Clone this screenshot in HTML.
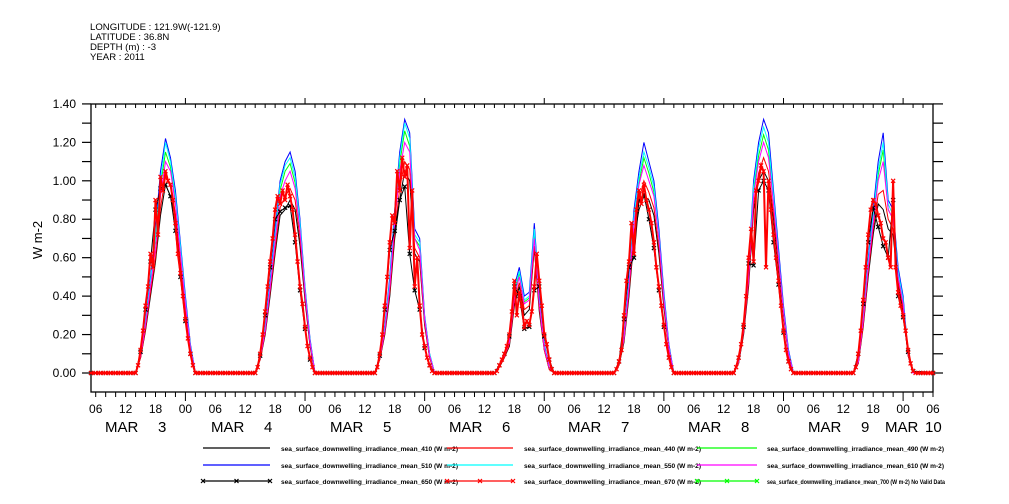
<!DOCTYPE html>
<html><head><meta charset="utf-8"><style>
html,body{margin:0;padding:0;background:#fff;}
svg{display:block;font-family:"Liberation Sans",sans-serif;}
</style></head><body>
<svg id="chart" width="1009" height="504" viewBox="0 0 1009 504" xmlns="http://www.w3.org/2000/svg">
<g font-size="9.6" fill="#000">
<text x="90" y="30">LONGITUDE : 121.9W(-121.9)</text>
<text x="90" y="40">LATITUDE : 36.8N</text>
<text x="90" y="50">DEPTH (m) : -3</text>
<text x="90" y="60">YEAR : 2011</text>
</g>
<text transform="translate(42,240) rotate(-90)" text-anchor="middle" font-size="13">W m-2</text>
<g id="axes"></g>
<g id="series"></g>
<g id="legend"></g>
</svg>
<script>
const halfHours = [14,14.5,15,15.5,16,16.5,17,17.5,18,18.5,19,19.5,20,20.5,21,21.5,22,22.5,23,23.5,24,24.5,25,25.5,26,26.5];
const hours = [14,15,16,17,18,19,20,21,22,23,24,25,26];
const dayLabels = ["MAR 3","MAR 4","MAR 5","MAR 6","MAR 7","MAR 8","MAR 9","MAR 10"];
const yTicks = [0,0.2,0.4,0.6,0.8,1.0,1.2,1.4];
const yTickLabels = ["0.00","0.20","0.40","0.60","0.80","1.00","1.20","1.40"];
const hourTickLabels = ["00","06","12","18"];

const red670 = [
[0,0.04,0.12,0.22,0.35,0.45,0.62,0.55,0.9,0.72,1.02,0.95,1.05,1.0,0.98,0.9,0.78,0.62,0.52,0.4,0.28,0.18,0.1,0.04,0,0],
[0,0.03,0.1,0.2,0.32,0.45,0.58,0.7,0.85,0.92,0.88,0.95,0.9,0.98,0.92,0.85,0.72,0.58,0.45,0.36,0.24,0.14,0.08,0.03,0,0],
[0,0.03,0.1,0.2,0.35,0.5,0.68,0.82,0.78,1.05,0.95,1.12,1.02,1.08,0.65,0.95,0.45,0.6,0.35,0.2,0.14,0.08,0.04,0.01,0,0],
[0,0.01,0.04,0.07,0.1,0.14,0.2,0.32,0.48,0.3,0.42,0.35,0.24,0.27,0.25,0.32,0.45,0.62,0.48,0.35,0.2,0.15,0.07,0.02,0,0],
[0,0.02,0.06,0.12,0.3,0.48,0.58,0.78,0.62,0.85,0.95,0.88,0.98,0.9,0.85,0.78,0.68,0.55,0.45,0.35,0.25,0.15,0.08,0.03,0,0],
[0,0.03,0.08,0.15,0.25,0.4,0.6,0.75,0.58,0.95,1.0,1.08,1.05,0.55,1.0,0.85,0.72,0.6,0.48,0.35,0.22,0.12,0.06,0.02,0,0],
[0,0.03,0.1,0.22,0.38,0.55,0.72,0.85,0.9,0.88,0.82,0.78,0.7,0.68,0.6,0.55,1.0,0.55,0.42,0.35,0.3,0.22,0.12,0.05,0.01,0]
];
const blue510 = [
[0,0.1,0.28,0.5,0.75,1.05,1.22,1.12,0.95,0.68,0.4,0.15,0],
[0,0.08,0.25,0.48,0.75,1.0,1.1,1.15,1.05,0.8,0.45,0.18,0],
[0,0.08,0.25,0.5,0.85,1.15,1.32,1.25,0.75,0.7,0.3,0.1,0],
[0,0.04,0.1,0.18,0.45,0.55,0.4,0.42,0.78,0.4,0.15,0.03,0],
[0,0.05,0.2,0.5,0.85,1.05,1.2,1.1,1.0,0.75,0.42,0.15,0],
[0,0.06,0.25,0.55,1.0,1.2,1.32,1.25,0.95,0.65,0.35,0.12,0],
[0,0.06,0.3,0.6,0.85,1.1,1.25,0.9,0.85,0.55,0.4,0.1,0]
];
const cyan550 = [
[0,0.1,0.27,0.48,0.72,1.0,1.2,1.1,0.92,0.66,0.38,0.14,0],
[0,0.08,0.24,0.46,0.72,0.98,1.08,1.12,1.02,0.78,0.44,0.17,0],
[0,0.08,0.24,0.48,0.82,1.12,1.3,1.22,0.72,0.68,0.29,0.1,0],
[0,0.04,0.1,0.17,0.43,0.53,0.38,0.4,0.75,0.38,0.14,0.03,0],
[0,0.05,0.19,0.48,0.82,1.02,1.15,1.07,0.97,0.72,0.4,0.14,0],
[0,0.06,0.24,0.53,0.97,1.17,1.28,1.2,0.92,0.62,0.33,0.11,0],
[0,0.06,0.29,0.58,0.82,1.06,1.2,0.88,0.82,0.53,0.38,0.1,0]
];
const magenta610 = [
[0,0.09,0.25,0.45,0.65,0.92,1.1,1.05,0.88,0.62,0.36,0.13,0],
[0,0.08,0.22,0.44,0.68,0.92,1.0,1.05,0.96,0.74,0.42,0.16,0],
[0,0.08,0.22,0.45,0.78,1.05,1.2,1.15,0.7,0.64,0.28,0.09,0],
[0,0.04,0.09,0.16,0.4,0.5,0.36,0.38,0.7,0.36,0.13,0.03,0],
[0,0.05,0.18,0.45,0.78,0.98,1.08,1.0,0.92,0.7,0.38,0.13,0],
[0,0.06,0.22,0.5,0.92,1.1,1.2,1.12,0.88,0.6,0.32,0.1,0],
[0,0.06,0.27,0.55,0.78,1.0,1.1,0.85,0.8,0.5,0.36,0.1,0]
];
const green490 = [
[0,0.1,0.26,0.47,0.7,0.97,1.15,1.07,0.9,0.64,0.37,0.14,0],
[0,0.08,0.23,0.45,0.7,0.95,1.05,1.09,0.99,0.76,0.43,0.17,0],
[0,0.08,0.23,0.47,0.8,1.09,1.26,1.18,0.7,0.66,0.28,0.1,0],
[0,0.04,0.1,0.17,0.42,0.52,0.37,0.39,0.73,0.37,0.14,0.03,0],
[0,0.05,0.18,0.47,0.8,0.99,1.12,1.04,0.94,0.7,0.39,0.14,0],
[0,0.06,0.23,0.51,0.94,1.13,1.24,1.16,0.89,0.6,0.32,0.11,0],
[0,0.06,0.28,0.56,0.8,1.03,1.16,0.85,0.8,0.51,0.37,0.1,0]
];
const red440 = [
[0,0.08,0.23,0.42,0.6,0.86,1.02,0.97,0.83,0.58,0.34,0.12,0],
[0,0.07,0.21,0.42,0.64,0.86,0.92,0.96,0.9,0.7,0.4,0.15,0],
[0,0.07,0.21,0.42,0.73,0.96,1.1,1.06,0.65,0.6,0.26,0.08,0],
[0,0.03,0.08,0.15,0.37,0.47,0.33,0.35,0.66,0.34,0.12,0.02,0],
[0,0.04,0.17,0.42,0.73,0.9,1.0,0.94,0.86,0.65,0.36,0.12,0],
[0,0.05,0.21,0.47,0.88,1.04,1.12,1.05,0.83,0.57,0.31,0.09,0],
[0,0.05,0.25,0.52,0.75,0.93,0.95,0.8,0.75,0.48,0.34,0.09,0]
];
const black410 = [
[0,0.08,0.22,0.4,0.58,0.82,0.98,0.92,0.8,0.56,0.32,0.12,0],
[0,0.07,0.2,0.4,0.62,0.82,0.85,0.9,0.85,0.66,0.38,0.14,0],
[0,0.07,0.2,0.4,0.7,0.9,1.05,1.0,0.62,0.58,0.25,0.08,0],
[0,0.03,0.08,0.14,0.35,0.45,0.3,0.33,0.65,0.32,0.12,0.02,0],
[0,0.04,0.16,0.4,0.7,0.85,0.92,0.9,0.82,0.62,0.34,0.12,0],
[0,0.05,0.2,0.45,0.85,1.0,1.05,1.0,0.8,0.55,0.3,0.09,0],
[0,0.05,0.24,0.5,0.72,0.88,0.85,0.75,0.72,0.46,0.32,0.09,0]
];
const black650 = [
[0,0.11,0.33,0.58,0.85,0.96,0.98,0.92,0.74,0.5,0.27,0.1,0],
[0,0.09,0.3,0.55,0.8,0.84,0.86,0.87,0.68,0.43,0.23,0.07,0],
[0,0.09,0.33,0.64,0.74,0.9,0.97,0.62,0.43,0.33,0.13,0.04,0],
[0,0.04,0.1,0.19,0.45,0.4,0.23,0.24,0.43,0.45,0.19,0.07,0],
[0,0.06,0.28,0.55,0.6,0.9,0.93,0.8,0.65,0.43,0.24,0.08,0],
[0,0.08,0.24,0.57,0.56,0.95,1.0,0.95,0.68,0.46,0.21,0.06,0],
[0,0.1,0.36,0.68,0.86,0.76,0.66,0.6,0.9,0.4,0.29,0.11,0.01]
];

const NS="http://www.w3.org/2000/svg";
const X0=91, X1=933, Y0=104, Y1=392;
const T_MIN=5.06, T_MAX=174;
function xT(t){return 95.7+4.984*(t-6);}
function yV(v){return 373-v*192.2;}
function mk(tag,attrs,parent){const e=document.createElementNS(NS,tag);for(const k in attrs)e.setAttribute(k,attrs[k]);parent.appendChild(e);return e;}

const axes=document.getElementById('axes');
const frame=mk('rect',{x:X0,y:Y0,width:X1-X0,height:Y1-Y0,fill:'none',stroke:'#000','stroke-width':1.3},axes);


for(let i=0;i<=14;i++){
  const y=yV(i/10);
  const tl=mk('line',{x1:X0-9,x2:X0,y1:y,y2:y,stroke:'#000','stroke-width':1.2},axes);
  
  
  const tr=mk('line',{x1:X1,x2:X1+10,y1:y,y2:y,stroke:'#000','stroke-width':1.2},axes);
  
  
}
yTicks.forEach((v,i)=>{
  const t=mk('text',{x:76,y:yV(v)+4,'text-anchor':'end','font-size':12},axes);
  t.textContent=yTickLabels[i];
  
  
});
for(let h=6;h<=174;h+=2){
  const x=xT(h); if(x<X0||x>X1+1)continue;
  const major=(h%24===0);
  const b=mk('line',{x1:x,x2:x,y1:Y1,y2:Y1+(major?9:5),stroke:'#000','stroke-width':1},axes);
  
  
  const tp=mk('line',{x1:x,x2:x,y1:major?Y0-6:Y0,y2:Y0+(major?0:4),stroke:'#000','stroke-width':1},axes);
  
  
  if(h%6===0){
    const t=mk('text',{x:x,y:413,'text-anchor':'middle','font-size':12},axes);
    t.textContent=hourTickLabels[(h%24)/6];
    
    
  }
}
const dayX=[105,211,330,449,568,688,808,885];
dayLabels.forEach((lab,i)=>{
  const parts=lab.split(' ');
  const t=mk('text',{x:dayX[i],y:432,'font-size':15},axes);
  t.textContent=parts[0];
  
  
  const d=mk('text',{x:dayX[i]+(i===7?40:53),y:432,'font-size':15},axes);
  d.textContent=parts[1];
  
  
});

const series=document.getElementById('series');
function buildPts(arr,hs){
  const pts=[[T_MIN,0]];
  arr.forEach((day,d)=>{day.forEach((v,i)=>pts.push([24*d+hs[i],v]));});
  pts.push([T_MAX,0]);
  return pts;
}
function xMarker(x,y,color,parent,name){
  const p=mk('path',{d:`M${x-2},${y-2}L${x+2},${y+2}M${x-2},${y+2}L${x+2},${y-2}`,stroke:color,'stroke-width':1.2,fill:'none'},parent);
  
  
}
function drawSeries(arr,hs,color,name,markers,width){
  const g=mk('g',{},series);
  
  
  const pts=buildPts(arr,hs);
  const d=pts.map((p,i)=>(i?'L':'M')+xT(p[0]).toFixed(1)+','+yV(p[1]).toFixed(1)).join('');
  const path=mk('path',{d:d,fill:'none',stroke:color,'stroke-width':width||1},g);
  
  
  if(markers){
    pts.forEach(p=>xMarker(xT(p[0]),yV(p[1]),color,g,name+'-marker'));
    const step=hs===halfHours?0.5:1;
    for(let t=6;t<T_MAX;t+=step){
      const h=t%24; if(h>=14&&h<=26.5)continue; if(h<3)continue;
      xMarker(xT(t),yV(0),color,g,name+'-marker');
    }
  }
}
drawSeries(black410,hours,'#000','series-410',false);
drawSeries(red440,hours,'#ff0000','series-440',false);
drawSeries(green490,hours,'#00ff00','series-490',false);
drawSeries(blue510,hours,'#0000ff','series-510',false);
drawSeries(cyan550,hours,'#00ffff','series-550',false);
drawSeries(magenta610,hours,'#ff00ff','series-610',false);
drawSeries(black650,hours,'#000','series-650',true);
drawSeries(red670,halfHours,'#ff0000','series-670',true,2);

const legend=document.getElementById('legend');
const legItems=[
 ["sea_surface_downwelling_irradiance_mean_410 (W m-2)","#000",false],
 ["sea_surface_downwelling_irradiance_mean_440 (W m-2)","#ff0000",false],
 ["sea_surface_downwelling_irradiance_mean_490 (W m-2)","#00ff00",false],
 ["sea_surface_downwelling_irradiance_mean_510 (W m-2)","#0000ff",false],
 ["sea_surface_downwelling_irradiance_mean_550 (W m-2)","#00ffff",false],
 ["sea_surface_downwelling_irradiance_mean_610 (W m-2)","#ff00ff",false],
 ["sea_surface_downwelling_irradiance_mean_650 (W m-2)","#000",true],
 ["sea_surface_downwelling_irradiance_mean_670 (W m-2)","#ff0000",true],
 ["sea_surface_downwelling_irradiance_mean_700 (W m-2) No Valid Data","#00ff00",true]
];
const colLine=[[203,270],[447,513],[697,757]];
const colText=[281,524,767];
const rowY=[448,465,481];
legItems.forEach((it,i)=>{
  const r=Math.floor(i/3), c=i%3;
  const g=mk('g',{},legend);
  
  
  const y=rowY[r];
  const l=mk('line',{x1:colLine[c][0],x2:colLine[c][1],y1:y,y2:y,stroke:it[1],'stroke-width':1.3},g);
  
  
  if(it[2]){
    [0,0.5,1].forEach(f=>xMarker(colLine[c][0]+f*(colLine[c][1]-colLine[c][0]),y,it[1],g,'legend-marker'));
  }
  const t=mk('text',{x:colText[c],y:y+3,'font-size':6.5,'font-weight':'bold',textLength:i===8?178:177,lengthAdjust:'spacingAndGlyphs'},g);
  t.textContent=it[0];
  
  
});
</script>
</body></html>
